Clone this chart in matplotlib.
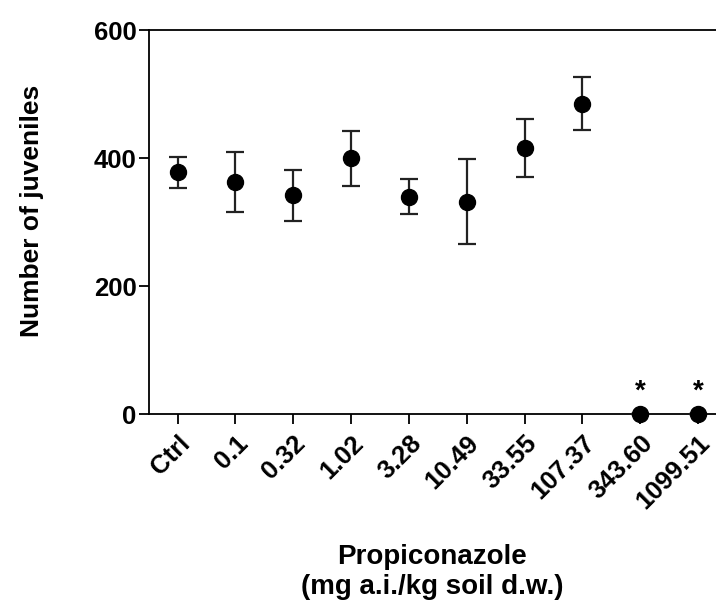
import matplotlib
matplotlib.use('Agg')
import matplotlib.pyplot as plt
import numpy as np

plt.rcParams['font.family'] = ['Liberation Sans', 'DejaVu Sans']
plt.rcParams['font.weight'] = 'bold'

# concentrations (mg a.i./kg soil d.w.)
doses = ['Ctrl', '0.1', '0.32', '1.02', '3.28', '10.49', '33.55', '107.37', '343.60', '1099.51']
juveniles = [378, 363, 342, 400, 340, 332, 416, 485, 0, 0]
sd = [24, 47, 40, 43, 27, 66, 45, 41, 0, 0]
signif = [False, False, False, False, False, False, False, False, True, True]

x = np.arange(len(doses))

fig = plt.figure(figsize=(7.16, 6.02), dpi=100)
ax = fig.add_axes([0.208, 0.312, 0.792, 0.638])

ax.errorbar(x, juveniles, yerr=sd, fmt='o', color='black', ecolor='#222222',
            markersize=11.5, elinewidth=1.6, capsize=6.5, capthick=1.6, zorder=3,
            clip_on=False)

for xi, yi, s in zip(x, juveniles, signif):
    if s:
        ax.annotate('*', (xi, yi), xytext=(0, 7), textcoords='offset points',
                    ha='center', va='bottom', fontsize=20, fontweight='bold')

ax.set_xlim(-0.497, 9.31)
ax.set_ylim(0, 600)
ax.set_yticks([0, 200, 400, 600])
ax.set_xticks(x)
ax.set_xticklabels(doses, rotation=45, ha='right', rotation_mode='anchor')

ax.spines['right'].set_visible(False)
for sp in ['left', 'bottom', 'top']:
    ax.spines[sp].set_linewidth(1.3)
ax.tick_params(axis='both', direction='out', length=7, width=1.3, labelsize=18.5)
ax.tick_params(axis='x', pad=5)
ax.tick_params(axis='y', pad=2)

ax.set_ylabel('Number of juveniles', fontsize=19, fontweight='bold')
ax.yaxis.set_label_coords(-0.185, 0.53)
ax.set_xlabel('Propiconazole\n(mg a.i./kg soil d.w.)', fontsize=20,
              fontweight='bold', labelpad=22, linespacing=1.2)

fig.savefig('out.png', dpi=100)
